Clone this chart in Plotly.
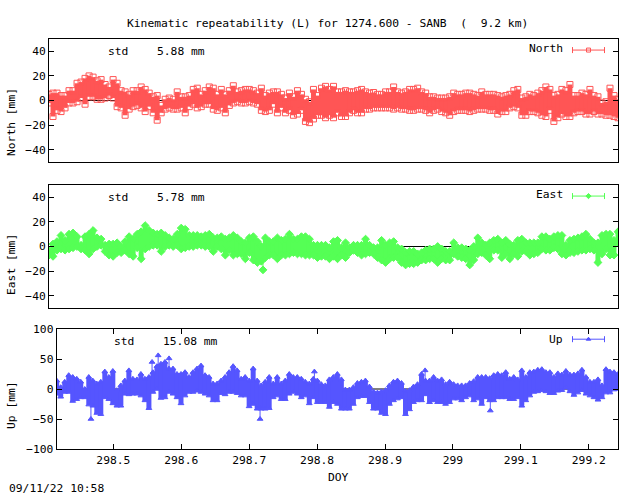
import numpy as np
import plotly.graph_objects as go

X_START, X_END = 298.4166, 299.243
TICK_VALS = [298.5, 298.6, 298.7, 298.8, 298.9, 299.0, 299.1, 299.2]
TICK_TEXT = ["298.5", "298.6", "298.7", "298.8", "298.9", "299", "299.1", "299.2"]

NORTH_HI = [7,8,8,6,6,10,10,16,17,20,22,21,18,19,15,13,19,16,10,9,7,10,10,13,11,8,5,6,-2,3,4,3,9,5,5,6,11,12,7,10,13,12,7,11,7,10,14,9,10,11,11,10,8,12,6,8,9,9,7,4,8,5,10,7,3,1,11,6,
 12,13.5,11,13.5,9,9,10,9,9,10,11,9,8,8.5,7,7,9,9,13,9,8,9,11,11,12,9,8,5,5,4,4,4,5,8,7,7,8,8,7,6,
 9,7,7,7,6,5,6,7,10,11,4,5,7,6,8,10,13,11,6,7,11,10,15,6,6,8,7,11,6,5,0,1,12,6,3]
NORTH_LO = [-4,-15,-10,-11,-8,-4,-4,-3,0,-5,1,1,-1,-1,0,2,0,-7,-8,-14,-9,-7,-6,-8,-11,-7,-12,-18,-12,-9,-8,-9,-9,-8,-12,-7,-5,-8,-7,-5,-5,-9,-10,-8,-12,-6,-4,-3,-4,-4,-3,-4,-5,-10,-11,-10,-5,-12,-8,-12,-10,-14,-13,-10,-19,-20,-17,-14,
 -14,-16,-14,-16,-12,-15,-15,-12,-10,-12,-12,-9,-9,-8,-8,-8,-8,-8,-9,-8,-9,-9,-10,-10,-9,-9,-10,-12,-10,-9,-11,-12,-14,-11,-10,-10,-10,-11,-10,-9,
 -9,-9,-10,-10,-13,-11,-11,-8,-7,-8,-14,-14,-11,-11,-12,-14,-15,-10,-19,-16,-13,-15,-15,-12,-11,-11,-13,-13,-11,-13,-13,-14,-14,-15,-16]

EAST_HI = [-1,4,6,11,7,12,13,10,3,10,12,15,9,8,3,4,4,5,2,6,10,8,12,14,19,15,13,12,13,11,9,8,12,17,16,11,11,11,10,11,12,9,9,10,8,9,
 11,9,6,5,9,10,6,2,9,6,6,9,7,8,12,8,8,10,10,8,3,3,3,3,1,6,7,
 1,5,1,3,3,3,8,3,1,1,7,3,5,6,1,0,-3,-2,-2,-4,-3,-1,0,0,2,0,-2,-2,5,1,1,0,-1,2,9,5,3,
 5,7,8,5,7,4,3,7,8,5,5,5,5,10,10,8,10,11,11,3,7,8,9,10,12,8,5,5,11,12,12,7,14]
EAST_LO = [-9,-10,-5,-4,-5,-4,-3,-2,-4,-5,-8,-4,-2,-1,-6,-9,-10,-7,-7,-5,-8,-10,-3,-12,-4,-2,-1,-1,-6,-2,-1,-2,-1,-4,-3,-2,-2,-1,-1,-2,-2,-6,-2,-4,-9,-5,
 -9,-8,-8,-12,-7,-13,-15,-14,-11,-9,-9,-12,-9,-9,-8,-7,-8,-8,-9,-9,-9,-11,-10,-10,-12,-10,-12,
 -9,-11,-7,-5,-7,-9,-8,-7,-8,-11,-13,-15,-12,-11,-11,-15,-17,-16,-16,-15,-13,-13,-12,-12,-15,-12,-13,-13,-8,-10,-11,-12,-17,-13,-8,-7,-9,
 -12,-5,-5,-11,-8,-12,-8,-10,-6,-6,-9,-8,-7,-4,-5,-5,-3,-4,-8,-9,-7,-7,-6,-5,-5,-4,-5,-15,-8,-4,-9,-9,1]

UP_HI = [18,7,16,27,24,21,16,4,24,18,13,16,33,24,34,2,10,18,35,21,20,29,21,24,32,42,46,49,38,38,29,29,32,24,32,38,43,27,24,13,13,18,24,32,42,35,21,24,18,38,18,10,16,24,13,24,13,18,29,24,24,21,16,13,21,18,
 12,10,20,24,29,20,3,3,7,14,16,18,8,0,-2,0,2,10,16,18,14,1,2,8,12,29,18,18,24,18,20,12,16,12,10,10,10,14,17,24,
 24,24,22,27,29,27,32,21,24,20,35,24,32,33,36,37,32,32,24,30,28,34,28,28,30,36,24,16,16,20,10,37,33,32,29]
UP_LO = [-12,-17,-9,-9,-24,-21,-18,-18,-30,-32,-44,-46,-18,-21,-28,-32,-32,-12,-13,-12,-12,-15,-23,-36,-9,-4,-19,-18,-9,-12,-18,-28,-15,-9,-9,-7,-9,-12,-15,-23,-23,-11,-13,-9,-9,-11,-15,-15,-33,-29,-37,-37,-37,-36,-18,-15,-21,-21,-12,-9,-12,-18,-15,-28,-18,-26,
 -26,-26,-34,-26,-29,-37,-37,-37,-29,-18,-16,-16,-26,-37,-37,-44,-46,-29,-23,-20,-18,-46,-38,-26,-23,-23,-13,-26,-23,-26,-26,-29,-26,-20,-20,-23,-18,-15,-23,-20,
 -29,-18,-23,-23,-18,-18,-18,-21,-21,-18,-32,-23,-15,-9,-8,-6,-8,-11,-11,-7,-6,-2,-8,-14,-10,-6,-12,-15,-18,-22,-18,-10,-10,-5,-4]

# isolated readings that stand off the band on a thin stem
EAST_SPIKE_DOY = [298.7274]
EAST_SPIKE_TIP = [-21]
EAST_SPIKE_ROOT = [-10]
UP_SPIKE_DOY = [298.467, 298.557, 298.566, 298.582, 298.716, 298.796, 298.959, 299.055]
UP_SPIKE_TIP = [-54, 49, 60, 55, -54, 33, 35, -40]
UP_SPIKE_ROOT = [-20, 25, 35, 30, -28, 10, 15, -15]

RED, GREEN, BLUE = "#ff5555", "#55ff55", "#5555ff"
FONT = dict(family="DejaVu Sans Mono", size=11.3, color="black")
W, H = 640, 496

panels = [
    dict(name="North", hi=NORTH_HI, lo=NORTH_LO, sd=[], st=[], sr=[], color=RED, symbol="square-open", size=6, yr=50, ticks=[-40,-20,0,20,40], dy=dict(top=39, bot=162), xl=49, inset=2.0, leg=41, std="5.88 mm", stdx=(107,156), ylab=122),
    dict(name="East", hi=EAST_HI, lo=EAST_LO, sd=EAST_SPIKE_DOY, st=EAST_SPIKE_TIP, sr=EAST_SPIKE_ROOT, color=GREEN, symbol="diamond", size=6, yr=50, ticks=[-40,-20,0,20,40], dy=dict(top=185, bot=308), xl=49, inset=2.0, leg=41, std="5.78 mm", stdx=(107,156), ylab=265),
    dict(name="Up", hi=UP_HI, lo=UP_LO, sd=UP_SPIKE_DOY, st=UP_SPIKE_TIP, sr=UP_SPIKE_ROOT, color=BLUE, symbol="triangle-up", size=5, yr=100, ticks=[-100,-50,0,50,100], dy=dict(top=329, bot=449), xl=56.7, inset=4.0, leg=83, std="15.08 mm", stdx=(113,162), ylab=405),
]

fig = go.Figure()
ann = []
XR = 618.0
for i, p in enumerate(panels):
    ax = "" if i == 0 else str(i + 1)
    xa, ya = "x" + ax, "y" + ax
    n = len(p["hi"])
    xs = np.linspace(X_START, X_END, n)
    hi = np.array(p["hi"], float) - p["inset"]
    lo = np.array(p["lo"], float) + p["inset"]
    hi = np.maximum(hi, lo)
    mk = dict(symbol=p["symbol"], size=p["size"], color=p["color"], line=dict(color=p["color"], width=1))
    fig.add_trace(go.Scatter(x=[X_START, X_END], y=[0, 0], mode="lines", line=dict(color="black", width=1), xaxis=xa, yaxis=ya, showlegend=False))
    fig.add_trace(go.Scatter(x=xs, y=hi, mode="markers", name=p["name"], xaxis=xa, yaxis=ya, showlegend=False, marker=mk,
        error_y=dict(type="data", symmetric=False, array=np.zeros(n), arrayminus=hi - lo, color=p["color"], thickness=5, width=0)))
    fig.add_trace(go.Scatter(x=xs, y=lo, mode="markers", xaxis=xa, yaxis=ya, showlegend=False, marker=mk))
    if p["sd"]:
        tip = np.array(p["st"], float)
        root = np.array(p["sr"], float)
        tipc = tip - np.sign(tip) * p["inset"]
        fig.add_trace(go.Scatter(x=p["sd"], y=tipc, mode="markers", xaxis=xa, yaxis=ya, showlegend=False, marker=mk,
            error_y=dict(type="data", symmetric=False, array=np.maximum(root - tipc, 0), arrayminus=np.maximum(tipc - root, 0), color=p["color"], thickness=1, width=0)))
    dpp = (X_END - X_START) / (XR - p["xl"])
    xc = X_END - (XR - 588.5) * dpp
    fig.add_trace(go.Scatter(x=[xc], y=[p["leg"]], mode="markers", xaxis=xa, yaxis=ya, showlegend=False,
        marker=dict(symbol=p["symbol"], size=4, color=p["color"], line=dict(color=p["color"], width=1)),
        error_x=dict(type="constant", value=16 * dpp, color=p["color"], thickness=1, width=3)))
    last = i == 2
    fig.update_layout({
        "xaxis" + ax: dict(domain=[p["xl"] / W, XR / W], range=[X_START, X_END], showgrid=False, zeroline=False,
            showline=True, linecolor="black", linewidth=1, mirror=("ticks" if last else True),
            ticks=("inside" if last else ""), ticklen=5, tickcolor="black", tickvals=TICK_VALS if last else [],
            ticktext=TICK_TEXT if last else [], showticklabels=last, tickfont=FONT, tickangle=0, anchor=ya),
        "yaxis" + ax: dict(domain=[1 - p["dy"]["bot"] / H, 1 - p["dy"]["top"] / H], range=[-p["yr"], p["yr"]], showgrid=False, zeroline=False,
            showline=True, linecolor="black", linewidth=1, mirror="ticks", ticks="inside", ticklen=5, tickcolor="black",
            tickvals=p["ticks"], tickfont=FONT, anchor=xa),
    })
    yt = p["dy"]["top"]
    ann += [
        dict(text=p["name"] + " [mm]", x=11 / W, y=1 - p["ylab"] / H, textangle=-90),
        dict(text="std", x=p["stdx"][0] / W, y=1 - (yt + 12.5) / H, xanchor="left"),
        dict(text=p["std"], x=p["stdx"][1] / W, y=1 - (yt + 12.5) / H, xanchor="left"),
        dict(text=p["name"], x=564 / W, y=1 - (yt + 10) / H, xanchor="right"),
    ]
ann += [
    dict(text="Kinematic repeatability (L) for 1274.600 - SANB\u00a0\u00a0(\u00a0\u00a09.2 km)", x=327.5 / W, y=1 - 23 / H),
    dict(text="DOY", x=338 / W, y=1 - 477 / H),
    dict(text="09/11/22 10:58", x=8 / W, y=1 - 488.5 / H, xanchor="left"),
]
for a in ann:
    a.update(xref="paper", yref="paper", showarrow=False, font=FONT)
    a.setdefault("xanchor", "center")
    a.setdefault("yanchor", "middle")
    a["borderpad"] = 0
fig.update_layout(width=W, height=H, margin=dict(l=0, r=0, t=0, b=0, autoexpand=False), paper_bgcolor="white", plot_bgcolor="white",
                  annotations=ann, font=FONT, showlegend=False)
fig.write_html("out.html", post_script="document.body.style.margin='0';", config=dict(displayModeBar=False))
